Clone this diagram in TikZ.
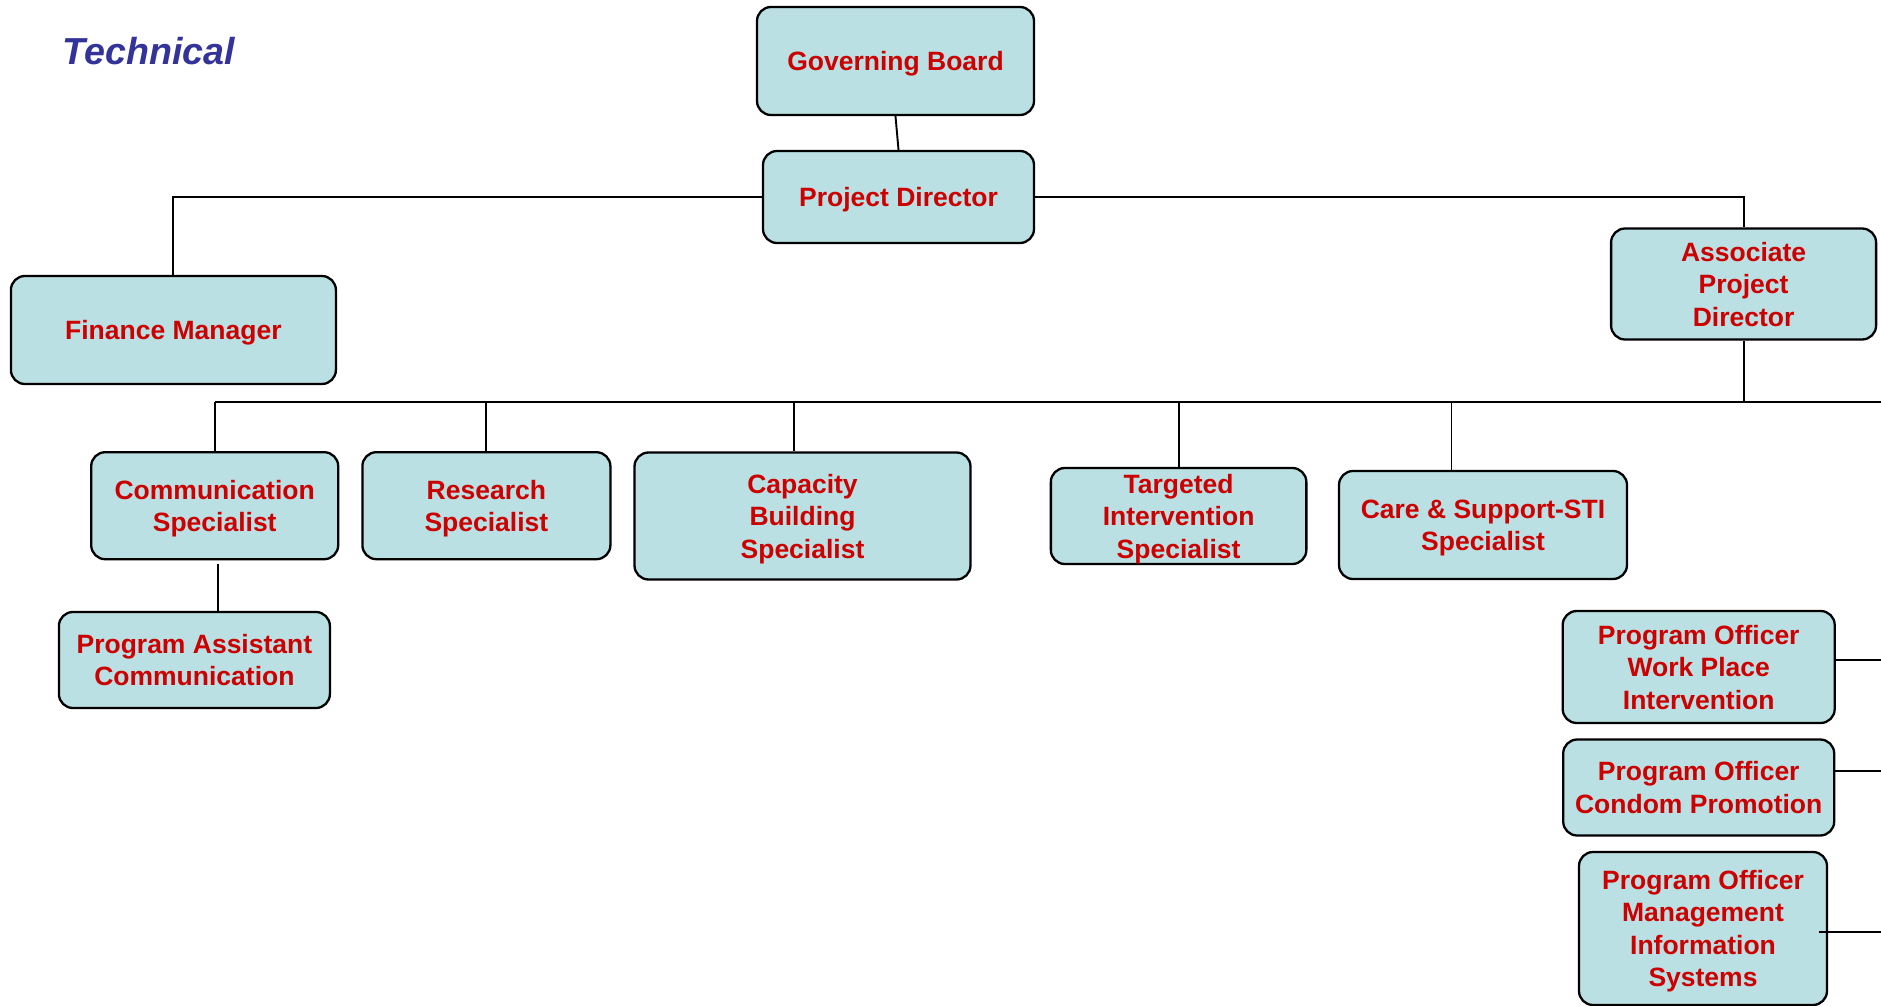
\documentclass[tikz,border=0pt]{standalone}
\usepackage{fontspec}
\setmainfont{Liberation Sans}
\usetikzlibrary{calc}
\definecolor{boxfill}{RGB}{186,224,227}
\definecolor{boxtext}{RGB}{204,0,0}
\definecolor{titleblue}{RGB}{51,51,153}
\begin{document}
\begin{tikzpicture}[x=0.5pt,y=-0.5pt,
  orgbox/.style={draw=black, line width=1.15pt, fill=boxfill, rounded corners=7pt,
    inner sep=0pt, align=center, text=boxtext, text depth=0pt,
    font=\fontsize{13.25}{16.2}\selectfont\bfseries},
  link/.style={line width=0.95pt, draw=black}]
\useasboundingbox (0,0) rectangle (1881,1006);

\node[anchor=base west, inner sep=0pt, text=titleblue,
  font=\fontsize{18.8}{22}\selectfont\bfseries\itshape] (title) at (62.5,65) {Technical};

\node[orgbox, minimum width=138.5pt, minimum height=54pt] (GB) at (895.5,61) {Governing Board};
\node[orgbox, minimum width=135.5pt, minimum height=46pt] (PD) at (898.5,197) {Project Director};
\node[orgbox, minimum width=162.5pt, minimum height=54pt] (FM) at (173.4,330) {Finance Manager};
\node[orgbox, minimum width=132.5pt, minimum height=55.5pt] (APD) at (1743.6,284) {Associate\\Project\\Director};

\node[orgbox, minimum width=123.5pt, minimum height=53.5pt] (CS) at (214.7,505.7) {Communication\\Specialist};
\node[orgbox, minimum width=124pt, minimum height=53.5pt] (RS) at (486.4,505.7) {Research\\Specialist};
\node[orgbox, minimum width=168pt, minimum height=63.5pt] (CBS) at (802.5,516) {Capacity\\Building\\Specialist};
\node[orgbox, minimum width=127.75pt, minimum height=48pt] (TIS) at (1178.6,516) {Targeted\\Intervention\\Specialist};
\node[orgbox, minimum width=144pt, minimum height=54pt] (CSS) at (1483,525) {Care \& Support-STI\\Specialist};

\node[orgbox, minimum width=135.5pt, minimum height=48pt] (PAC) at (194.4,660) {Program Assistant\\Communication};

\node[orgbox, minimum width=136pt, minimum height=56pt] (POW) at (1698.7,667) {Program Officer\\Work Place\\Intervention};
\node[orgbox, minimum width=135.5pt, minimum height=48pt] (POC) at (1698.7,787.5) {Program Officer\\Condom Promotion};
\node[orgbox, minimum width=124pt, minimum height=76.5pt] (POM) at (1703,928.5) {Program Officer\\Management\\Information\\Systems};

\coordinate (busR) at (1881,402);
\coordinate (rightedge) at (1881,0);
\coordinate (powout) at ([yshift=3.5pt]POW.east);
\coordinate (pocout) at ([yshift=8.25pt]POC.east);
\coordinate (pomout) at ([xshift=-4.5pt,yshift=-1.75pt]POM.east);
\coordinate (csout) at ([shift={(3.3,4)}]CS.south);

\draw[link] (GB.south) -- (PD.north);
\draw[link] (PD.west) -| (FM.north);
\draw[link] (PD.east) -| (APD.north);
\draw[link] (APD.south) -- (APD.south |- busR);
\draw[link] (CS.north |- busR) -- (busR);
\draw[link] (CS.north) -- (CS.north |- busR);
\draw[link] (RS.north) -- (RS.north |- busR);
\draw[link] ([xshift=-4.25pt]CBS.north) -- ([xshift=-4.25pt]CBS.north |- busR);
\draw[link] (TIS.north) -- (TIS.north |- busR);
\draw[link] ([xshift=-15.75pt]CSS.north) -- ([xshift=-15.75pt]CSS.north |- busR);
\draw[link] (csout) -- (csout |- PAC.north);

\draw[link] (powout) -- (powout -| rightedge);
\draw[link] (pocout) -- (pocout -| rightedge);
\draw[link] (pomout) -- (pomout -| rightedge);
\end{tikzpicture}
\end{document}
